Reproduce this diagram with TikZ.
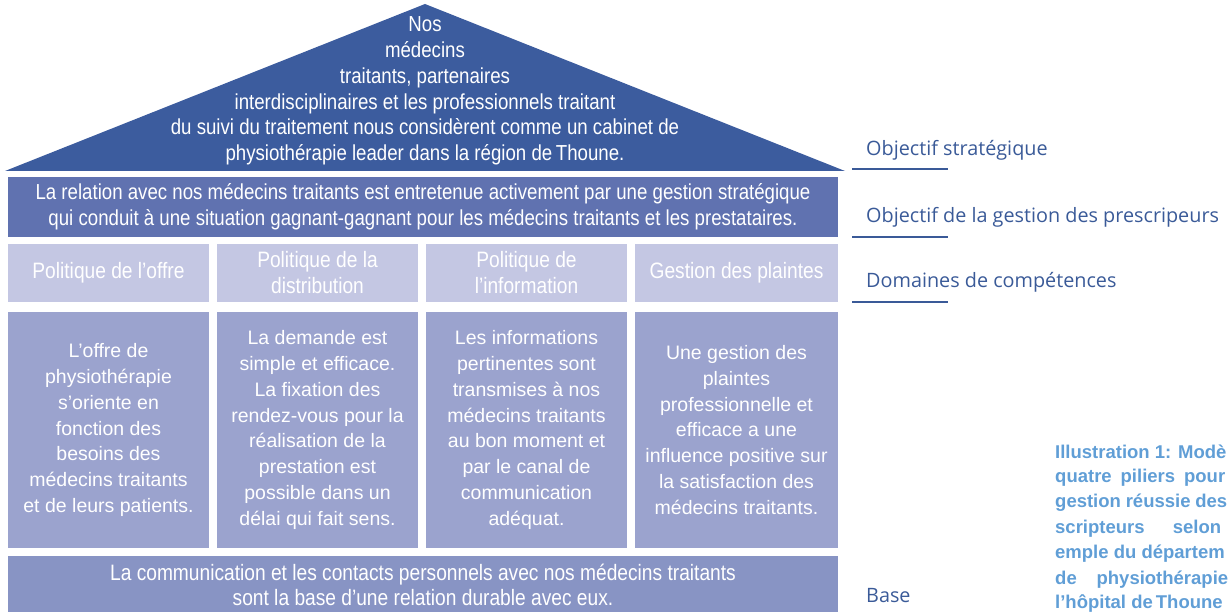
\documentclass[tikz,border=0pt]{standalone}
\usepackage{fontspec}
\setmainfont{Liberation Sans}
\newfontfamily\condfont[FakeStretch=0.86]{Liberation Sans}
\newfontfamily\labfont{Open Sans}
\definecolor{roofblue}{RGB}{60,92,158}
\definecolor{goalblue}{RGB}{96,114,176}
\definecolor{domblue}{RGB}{196,199,227}
\definecolor{pilblue}{RGB}{155,163,206}
\definecolor{baseblue}{RGB}{136,148,196}
\definecolor{labblue}{RGB}{58,90,152}
\definecolor{capblue}{RGB}{96,158,214}
\tikzset{
  condtext/.style={text=white,align=center,font=\condfont\fontsize{21.7}{25.7}\selectfont,inner sep=0pt},
  bandbox/.style={draw=none,inner sep=0pt,minimum width=830pt,text=white,align=center,font=\condfont\fontsize{21.7}{25.7}\selectfont},
  dombox/.style={fill=domblue,inner sep=0pt,minimum width=201pt,minimum height=58pt,text=white,align=center,font=\condfont\fontsize{22.3}{26}\selectfont},
  pilbox/.style={fill=pilblue,inner sep=0pt,minimum width=201pt,minimum height=236pt,text=white,align=center,font=\fontsize{19.5}{25.8}\selectfont},
  lab/.style={anchor=west,inner sep=0pt,text=labblue,font=\labfont\fontsize{19.8}{22}\selectfont},
  labline/.style={draw=labblue,line width=1.6pt},
  captext/.style={anchor=west,inner sep=0pt,text=capblue,font=\bfseries\fontsize{18.5}{22}\selectfont}
}
\begin{document}
\begin{tikzpicture}[x=1pt,y=-1pt]
\useasboundingbox (0,0) rectangle (1229,612);
% roof
\coordinate (apex) at (425,4);
\coordinate (rl) at (5,171);
\coordinate (rr) at (845,171);
\fill[roofblue] (apex) -- (rl) -- (rr) -- cycle;
\node[condtext] (rooftext) at (425,91) {Nos\\médecins\\traitants, partenaires\\interdisciplinaires et les professionnels traitant\\du suivi du traitement nous considèrent comme un cabinet de\\physiothérapie leader dans la région de\,Thoune.};
% goal band
\node[bandbox,fill=goalblue,minimum height=60pt] (goal) at (423,207) {La relation avec nos médecins traitants est entretenue activement par une gestion stratégique\\qui conduit à une situation gagnant-gagnant pour les médecins traitants et les prestataires.};
% domains
\node[dombox] (d1) at (108.5,273) {Politique de l’offre};
\node[dombox] (d2) at (317.5,273) {Politique de la\\distribution};
\node[dombox] (d3) at (526.5,273) {Politique de\\l’information};
\node[dombox,minimum width=203pt] (d4) at (736.5,273) {Gestion des plaintes};
% pillars
\node[pilbox] (p1) at (108.5,430) {L’offre de\\physiothérapie\\s’oriente en\\fonction des\\besoins des\\médecins traitants\\et de leurs patients.};
\node[pilbox] (p2) at (317.5,430) {La demande est\\simple et efficace.\\La fixation des\\rendez-vous pour la\\réalisation de la\\prestation est\\possible dans un\\délai qui fait sens.};
\node[pilbox] (p3) at (526.5,430) {Les informations\\pertinentes sont\\transmises à nos\\médecins traitants\\au bon moment et\\par le canal de\\communication\\adéquat.};
\node[pilbox,minimum width=203pt] (p4) at (736.5,430) {Une gestion des\\plaintes\\professionnelle et\\efficace a une\\influence positive sur\\la satisfaction des\\médecins traitants.};
% base
\node[bandbox,fill=baseblue,minimum height=58pt,font=\condfont\fontsize{22.3}{25.7}\selectfont] (base) at (423,585) {La communication et les contacts personnels avec nos médecins traitants\\sont la base d’une relation durable avec eux.};
% labels
\node[lab] (l1) at (866,150) {Objectif stratégique};
\node[lab] (l2) at (866,217) {Objectif de la gestion des prescripeurs};
\node[lab] (l3) at (866,282) {Domaines de compétences};
\node[lab] (l4) at (866,596) {Base};
\coordinate (u1a) at (852,169); \coordinate (u1b) at (948,169);
\coordinate (u2a) at (852,237); \coordinate (u2b) at (948,237);
\coordinate (u3a) at (852,302); \coordinate (u3b) at (948,302);
\draw[labline] (u1a) -- (u1b);
\draw[labline] (u2a) -- (u2b);
\draw[labline] (u3a) -- (u3b);
% caption
\node[captext] (c1) at (1055,452) {Illustration 1: Modè};
\node[captext] (c2) at (1055,477.5) {\makebox[170pt][s]{quatre piliers pour}};
\node[captext] (c3) at (1055,503) {\makebox[172pt][s]{gestion réussie des}};
\node[captext] (c4) at (1055,528.5) {\makebox[166pt][s]{scripteurs selon}};
\node[captext] (c5) at (1055,554) {emple du départem};
\node[captext] (c6) at (1055,579.5) {\makebox[173pt][s]{de physiothérapie}};
\node[captext] (c7) at (1055,603.5) {l’hôpital de\,Thoune};
\end{tikzpicture}
\end{document}
